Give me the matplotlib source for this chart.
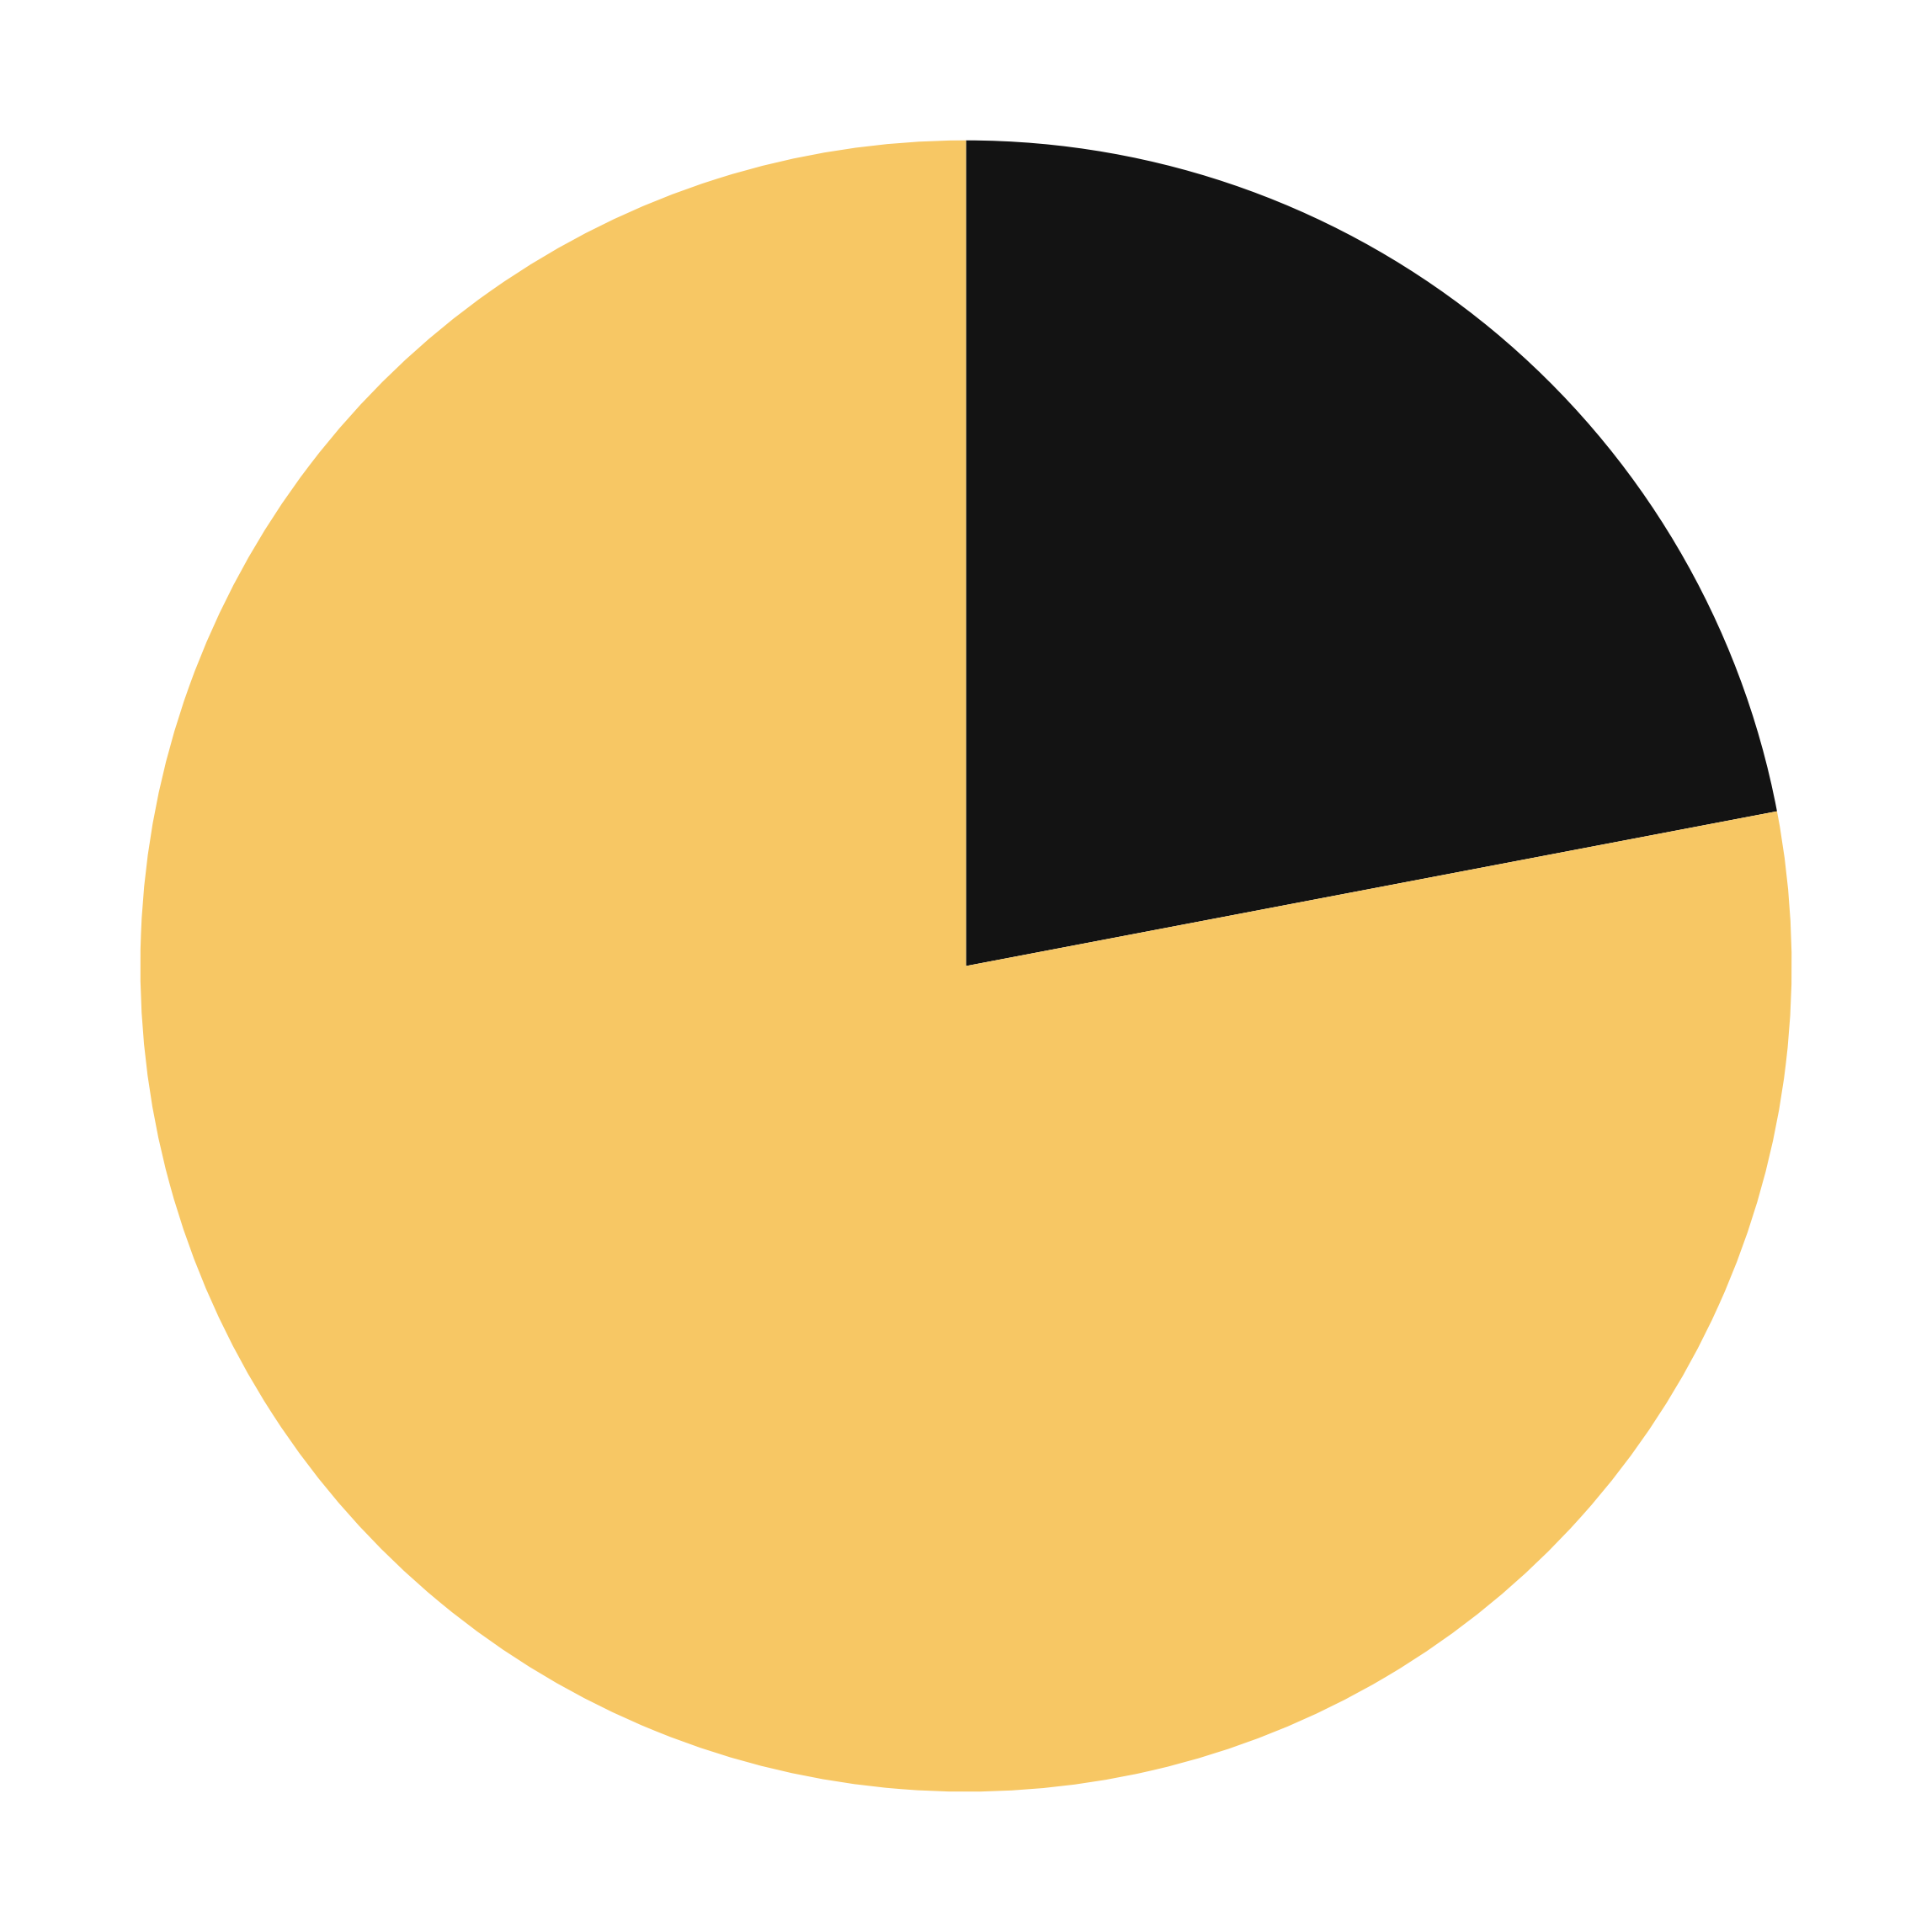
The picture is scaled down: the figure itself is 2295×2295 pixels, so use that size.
"""Two-slice pie chart."""

import matplotlib
matplotlib.use('Agg')
import matplotlib.pyplot as plt

labels = ['Dark', 'Yellow']
values = [22, 78]
colors = ['#131313', '#F7C764']

fig = plt.figure(figsize=(22.95, 22.95), dpi=100)
ax = fig.add_axes([0, 0, 1, 1])

# start at 12 o'clock, go clockwise
ax.pie(values, colors=colors, startangle=90, counterclock=False,
       wedgeprops={'linewidth': 0})

ax.set_aspect('equal')
ax.set_xlim(-1.17, 1.17)
ax.set_ylim(-1.17, 1.17)
ax.axis('off')

fig.savefig('out.png', dpi=100, facecolor='white')
